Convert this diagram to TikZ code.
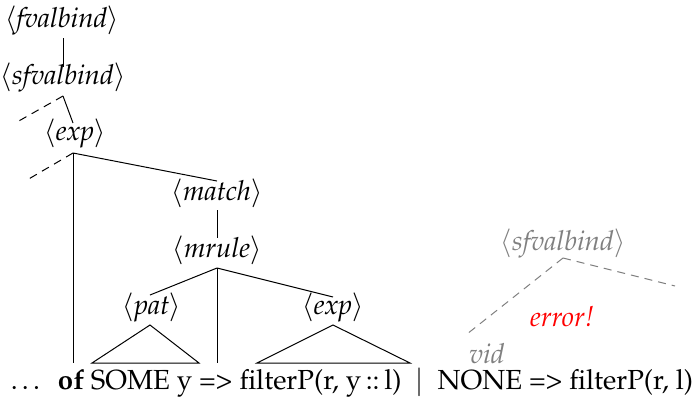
\documentclass[tikz,border=0pt]{standalone}
\usepackage[T1]{fontenc}
\usepackage{mathpazo}
\definecolor{greytxt}{RGB}{128,128,128}
\definecolor{errred}{RGB}{255,0,0}
\tikzset{
  lbl/.style={anchor=base, inner sep=0pt, font=\fontsize{13.8}{16}\selectfont},
  edge/.style={line width=0.5pt, black},
  dashedge/.style={line width=0.5pt, dash pattern=on 4pt off 3pt},
  greyedge/.style={line width=0.5pt, greytxt, dash pattern=on 4pt off 3pt},
}
\newcommand{\nt}[1]{$\langle$\textit{#1}$\rangle$}
\begin{document}
\begin{tikzpicture}[x=0.5pt,y=-0.5pt]
\useasboundingbox (0,0) rectangle (699,398);
% labels
\node[lbl] (fvb) at (62,27) {\nt{fvalbind}};
\node[lbl] (sfvb) at (63,84) {\nt{sfvalbind}};
\node[lbl] (exp1) at (75,140) {\nt{exp}};
\node[lbl] (match) at (217,200) {\nt{match}};
\node[lbl] (mrule) at (217,257) {\nt{mrule}};
\node[lbl] (pat) at (152,314) {\nt{pat}};
\node[lbl] (exp2) at (333,314) {\nt{exp}};
\node[lbl, text=greytxt] (gsfvb) at (563,250) {\nt{sfvalbind}};
\node[lbl, text=errred] (err) at (562,326) {\textit{error!}};
\node[lbl, text=greytxt] (vid) at (487,363) {\textit{vid}};
\node[lbl] (code) at (352,389) {\ldots\ \ \textbf{of} SOME y => filterP(r, y\,::\,l) \ $|$ \ NONE => filterP(r, l)};
% junction coordinates
\coordinate (fvb-s) at (63,38);
\coordinate (sfvb-n) at (63,67);
\coordinate (sfvb-s) at (63,96);
\coordinate (sfvb-l) at (17,122);
\coordinate (exp1-n) at (73,123);
\coordinate (exp1-s) at (73,153);
\coordinate (exp1-l) at (27,180);
\coordinate (match-n) at (217,181);
\coordinate (of-n) at (73,363);
\coordinate (match-s) at (217,210);
\coordinate (mrule-n) at (217,238);
\coordinate (mrule-s) at (217,268);
\coordinate (pat-n) at (150,295);
\coordinate (exp2-n) at (333,297);
\coordinate (arrow-n) at (217,363);
\coordinate (pat-s) at (150,325);
\coordinate (pat-bl) at (92,363);
\coordinate (pat-br) at (199,363);
\coordinate (exp2-s) at (333,325);
\coordinate (exp2-bl) at (257,363);
\coordinate (exp2-br) at (410,363);
\coordinate (gsfvb-s) at (563,258);
\coordinate (vid-n) at (467,334);
\coordinate (gsfvb-r) at (675,286);
% connectors
\draw[edge] (fvb-s) -- (sfvb-n);
\draw[edge] (sfvb-s) -- (exp1-n);
\draw[dashedge] (sfvb-s) -- (sfvb-l);
\draw[dashedge] (exp1-s) -- (exp1-l);
\draw[edge] (exp1-s) -- (match-n);
\draw[edge] (exp1-s) -- (of-n);
\draw[edge] (match-s) -- (mrule-n);
\draw[edge] (mrule-s) -- (pat-n);
\draw[edge] (mrule-s) -- (exp2-n);
\draw[edge] (mrule-s) -- (arrow-n);
\draw[edge] (pat-s) -- (pat-bl) -- (pat-br) -- cycle;
\draw[edge] (exp2-s) -- (exp2-bl) -- (exp2-br) -- cycle;
\draw[greyedge] (gsfvb-s) -- (vid-n);
\draw[greyedge] (gsfvb-s) -- (gsfvb-r);
\end{tikzpicture}
\end{document}
